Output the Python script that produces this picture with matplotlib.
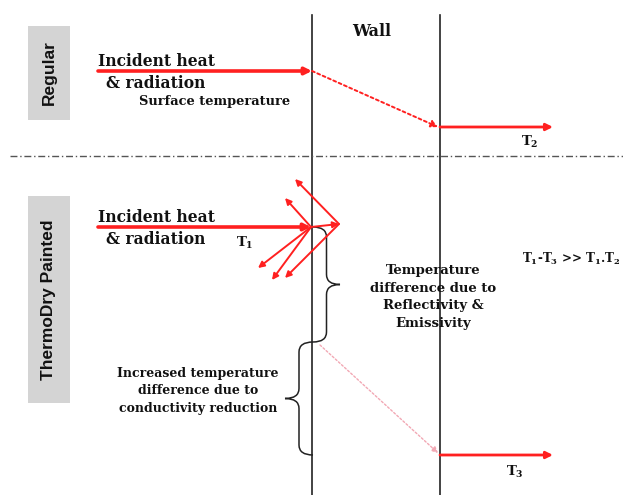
import matplotlib
matplotlib.use("Agg")
import matplotlib.pyplot as plt
from matplotlib.patches import Rectangle, PathPatch
from matplotlib.path import Path

# diagram coordinates (pixel space of the 623x495 picture, y pointing down)
wall_x = [312, 440]
wall_top = 15
divider_y = 156

# solid arrows: (x0, y0, x1, y1, linewidth)
incident_arrows = [(98, 71, 312, 71, 2.6), (98, 227, 311, 227, 2.6)]
out_arrows = [(440, 127, 553, 127, 2.0), (440, 455, 553, 455, 2.0)]
reflect_arrows = [
    (311, 227, 339, 224),
    (339, 224, 295, 179),
    (311, 227, 285, 198),
    (339, 224, 285, 278),
    (311, 227, 258, 268),
    (311, 227, 272, 280),
]
# conduction through the wall (dotted)
cond_regular = (312, 71, 438, 127)
cond_painted = (320, 345, 438, 453)

# braces: (x, y_top, y_bottom, width)
braces = [(313, 227, 342, 27), (313, 342, 455, -28)]

side_labels = ["Regular", "ThermoDry Painted"]
side_boxes = [(28, 26, 42, 94), (28, 196, 42, 207)]

RED = "#ff2020"
SERIF = "DejaVu Serif"

plt.rcParams["mathtext.fontset"] = "dejavuserif"
plt.rcParams["mathtext.default"] = "bf"


def draw_arrow(ax, x0, y0, x1, y1, lw, color=RED, ls="-", head=10):
    ax.annotate("", xy=(x1, y1), xytext=(x0, y0),
                arrowprops=dict(arrowstyle="-|>", color=color, lw=lw, ls=ls,
                                mutation_scale=head, shrinkA=0, shrinkB=0))


def draw_brace(ax, x, yt, yb, w):
    ym = (yt + yb) / 2
    h = w / 2
    r = 10
    verts = [(x, yt), (x + h, yt), (x + h, yt + r),
             (x + h, ym - r), (x + h, ym), (x + w, ym),
             (x + h, ym), (x + h, ym + r),
             (x + h, yb - r), (x + h, yb), (x, yb)]
    codes = [Path.MOVETO, Path.CURVE3, Path.CURVE3,
             Path.LINETO, Path.CURVE3, Path.CURVE3,
             Path.CURVE3, Path.CURVE3,
             Path.LINETO, Path.CURVE3, Path.CURVE3]
    ax.add_patch(PathPatch(Path(verts, codes), fill=False, lw=1.1, ec="#222222"))


def main():
    fig = plt.figure(figsize=(6.23, 4.95), dpi=100)
    ax = fig.add_axes([0, 0, 1, 1])
    ax.set_xlim(0, 623)
    ax.set_ylim(495, 0)
    ax.axis("off")

    for x in wall_x:
        ax.plot([x, x], [wall_top, 495], color="#222222", lw=1.2)
    ax.plot([10, 623], [divider_y, divider_y], color="#555555", lw=1.0,
            ls=(0, (5, 2, 1, 2)))

    # side labels in grey boxes
    for (bx, by, bw, bh), label in zip(side_boxes, side_labels):
        ax.add_patch(Rectangle((bx, by), bw, bh, color="#d4d4d4", lw=0))
        ax.text(bx + bw / 2, by + bh / 2, label, rotation=90, ha="center",
                va="center", fontsize=12.5, fontweight="bold",
                family="Liberation Sans", color="#111111")

    for x0, y0, x1, y1, lw in incident_arrows + out_arrows:
        draw_arrow(ax, x0, y0, x1, y1, lw)
    for x0, y0, x1, y1 in reflect_arrows:
        draw_arrow(ax, x0, y0, x1, y1, 1.4, head=9)
    draw_arrow(ax, *cond_regular, 1.4, ls=(0, (1.5, 1.5)))
    draw_arrow(ax, *cond_painted, 1.0, color="#f2a8b4", ls=(0, (1.5, 1.5)), head=9)

    for b in braces:
        draw_brace(ax, *b)

    txt = dict(family=SERIF, fontweight="bold", color="#111111")
    ax.text(372, 32, "Wall", ha="center", va="center", fontsize=11.5, **txt)
    for y in (61, 217):
        ax.text(98, y, "Incident heat", ha="left", va="center", fontsize=11.2, **txt)
    for y in (83, 239):
        ax.text(106, y, "& radiation", ha="left", va="center", fontsize=11.2, **txt)
    ax.text(139, 101, "Surface temperature", ha="left", va="center",
            fontsize=9.4, **txt)
    ax.text(530, 142, "T$_2$", ha="center", va="center", fontsize=9.5, **txt)
    ax.text(245, 243, "T$_1$", ha="center", va="center", fontsize=9.5, **txt)
    ax.text(515, 472, "T$_3$", ha="center", va="center", fontsize=9.5, **txt)
    ax.text(522, 259, "T$_1$-T$_3$ >> T$_1$.T$_2$", ha="left", va="center",
            fontsize=8.6, **txt)
    ax.text(433, 297, "Temperature\ndifference due to\nReflectivity &\nEmissivity",
            ha="center", va="center", fontsize=9.5, linespacing=1.45, **txt)
    ax.text(198, 391, "Increased temperature\ndifference due to\nconductivity reduction",
            ha="center", va="center", fontsize=9.0, linespacing=1.45, **txt)

    fig.savefig("out.png", dpi=100, facecolor="white")


if __name__ == "__main__":
    main()
